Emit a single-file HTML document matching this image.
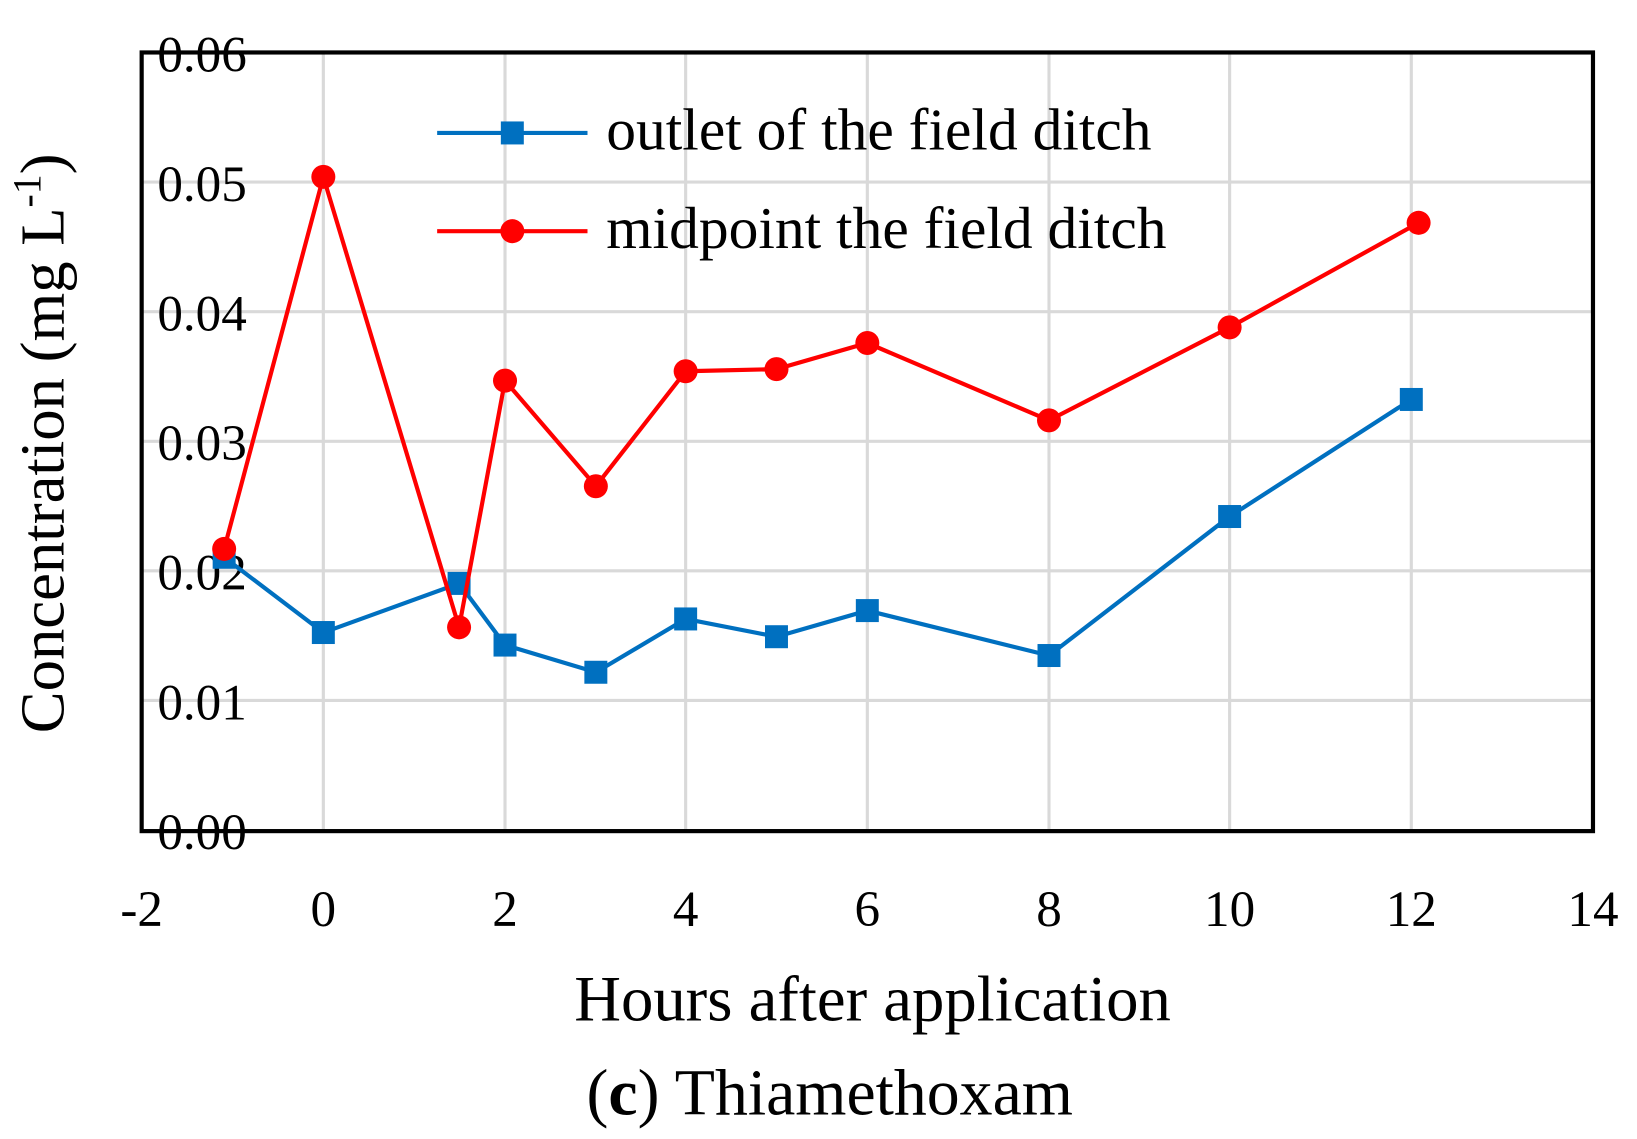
<!DOCTYPE html>
<html><head><style>html,body{margin:0;padding:0;background:#fff}svg{display:block}</style></head>
<body>
<svg width="1637" height="1139" viewBox="0 0 1637 1139" xmlns="http://www.w3.org/2000/svg" font-family="'Liberation Serif', serif">
<g transform="scale(1.04936)">
<g transform="translate(135,50) scale(0.995,0.996) translate(-135,-50)">
<g stroke="#d9d9d9" stroke-width="3">
<line x1="309" y1="50" x2="309" y2="795"/><line x1="483" y1="50" x2="483" y2="795"/><line x1="656" y1="50" x2="656" y2="795"/><line x1="830" y1="50" x2="830" y2="795"/><line x1="1004" y1="50" x2="1004" y2="795"/><line x1="1177" y1="50" x2="1177" y2="795"/><line x1="1351" y1="50" x2="1351" y2="795"/>
<line x1="135" y1="174" x2="1525" y2="174"/><line x1="135" y1="298" x2="1525" y2="298"/><line x1="135" y1="422" x2="1525" y2="422"/><line x1="135" y1="546" x2="1525" y2="546"/><line x1="135" y1="670" x2="1525" y2="670"/>
</g>
<rect x="135" y="50" width="1390" height="745" fill="none" stroke="#000" stroke-width="4"/>
<g font-size="49" fill="#000">
<text x="150" y="68">0.06</text><text x="150" y="192">0.05</text><text x="150" y="316">0.04</text><text x="150" y="440">0.03</text><text x="150" y="564">0.02</text><text x="150" y="688">0.01</text><text x="150" y="812">0.00</text>
</g>
<g font-size="49" text-anchor="middle">
<text x="135" y="886">-2</text><text x="309" y="886">0</text><text x="483" y="886">2</text><text x="656" y="886">4</text><text x="830" y="886">6</text><text x="1004" y="886">8</text><text x="1177" y="886">10</text><text x="1351" y="886">12</text><text x="1525" y="886">14</text>
</g>
<text x="835" y="976" font-size="62" text-anchor="middle">Hours after application</text>
<text x="794" y="1066" font-size="63" text-anchor="middle">(<tspan font-weight="bold">c</tspan>) Thiamethoxam</text>
<text transform="translate(60,424) rotate(-90)" font-size="60" text-anchor="middle">Concentration (mg L<tspan font-size="38" dy="-22">-1</tspan><tspan dy="22">)</tspan></text>
<polyline fill="none" stroke="#0070c0" stroke-width="4" points="214,533 309,605 439,558 483,617 570,643 656,592 743,609 830,584 1004,627 1177,494 1351,382"/>
<g fill="#0070c0">
<rect x="203" y="522" width="22" height="22"/><rect x="298" y="594" width="22" height="22"/><rect x="428" y="547" width="22" height="22"/><rect x="472" y="606" width="22" height="22"/><rect x="559" y="632" width="22" height="22"/><rect x="645" y="581" width="22" height="22"/><rect x="732" y="598" width="22" height="22"/><rect x="819" y="573" width="22" height="22"/><rect x="993" y="616" width="22" height="22"/><rect x="1166" y="483" width="22" height="22"/><rect x="1340" y="371" width="22" height="22"/>
</g>
<polyline fill="none" stroke="#ff0000" stroke-width="4" points="214,525 309,169 439,600 483,364 570,465 656,355 743,353 830,328 1004,402 1177,313 1358,213"/>
<g fill="#ff0000">
<circle cx="214" cy="525" r="11.5"/><circle cx="309" cy="169" r="11.5"/><circle cx="439" cy="600" r="11.5"/><circle cx="483" cy="364" r="11.5"/><circle cx="570" cy="465" r="11.5"/><circle cx="656" cy="355" r="11.5"/><circle cx="743" cy="353" r="11.5"/><circle cx="830" cy="328" r="11.5"/><circle cx="1004" cy="402" r="11.5"/><circle cx="1177" cy="313" r="11.5"/><circle cx="1358" cy="213" r="11.5"/>
</g>
<line x1="418" y1="127" x2="562" y2="127" stroke="#0070c0" stroke-width="4"/>
<rect x="479" y="116" width="22" height="22" fill="#0070c0"/>
<line x1="418" y1="221" x2="562" y2="221" stroke="#ff0000" stroke-width="4"/>
<circle cx="490" cy="221" r="11.5" fill="#ff0000"/>
<text x="580" y="143" font-size="57">outlet of the field ditch</text>
<text x="580" y="237" font-size="57">midpoint the field ditch</text>
</g>
</g>
</svg>
</body></html>
